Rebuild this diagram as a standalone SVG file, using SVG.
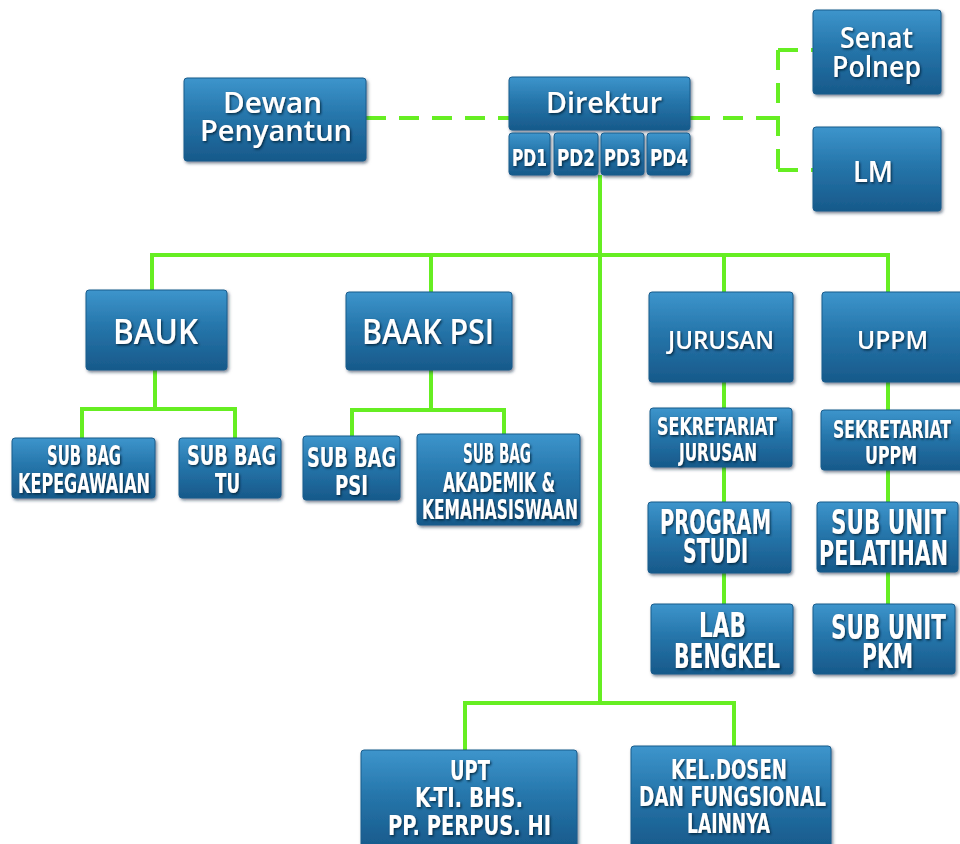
<svg xmlns="http://www.w3.org/2000/svg" width="960" height="844" viewBox="0 0 960 844">
  <defs>
    <linearGradient id="boxFill" x1="0" y1="0" x2="0" y2="1">
      <stop offset="0" stop-color="#3d95cc"/>
      <stop offset="0.45" stop-color="#2676ab"/>
      <stop offset="1" stop-color="#17598a"/>
    </linearGradient>
    <filter id="boxShadow" x="-10%" y="-10%" width="125%" height="130%">
      <feDropShadow dx="1.5" dy="2" stdDeviation="1.5" flood-color="#0c2c44" flood-opacity="0.55"/>
    </filter>
    <filter id="textShadow" x="-10%" y="-20%" width="125%" height="150%">
      <feDropShadow dx="1.2" dy="1.5" stdDeviation="0.9" flood-color="#06233a" flood-opacity="0.9"/>
    </filter>
  </defs>
  <style>
    .box { fill: url(#boxFill); stroke: #1a5c8c; stroke-width: 1; filter: url(#boxShadow); }
    .line { fill: none; stroke: #66ee22; stroke-width: 4; stroke-linecap: butt; }
    .dash { fill: none; stroke: #66ee22; stroke-width: 4; stroke-dasharray: 20 13; }
    .t { fill: #ffffff; filter: url(#textShadow); text-anchor: start; }
    .round { font-family: "Open Sans", "DejaVu Sans", sans-serif; font-weight: 600; }
    .cond { font-family: "DejaVu Sans Condensed", "Liberation Sans", sans-serif; font-weight: bold; }
  </style>
  <rect width="960" height="844" fill="#ffffff"/>

  <!-- connectors -->
  <g id="connectors">
    <path class="dash" d="M366 118 H509"/>
    <path class="dash" d="M690 118 H778"/>
    <path class="dash" d="M778 50 V170"/>
    <path class="dash" d="M778 50 H813"/>
    <path class="dash" d="M778 170 H813"/>
    <path class="line" d="M600 175 V703"/>
    <path class="line" d="M152 290 V255 H888 V292"/>
    <path class="line" d="M431 255 V292"/>
    <path class="line" d="M724 255 V292"/>
    <path class="line" d="M155 370 V409"/>
    <path class="line" d="M82 438 V409 H235 V438"/>
    <path class="line" d="M431 370 V410"/>
    <path class="line" d="M352 436 V410 H504 V434"/>
    <path class="line" d="M724 382 V604"/>
    <path class="line" d="M888 382 V604"/>
    <path class="line" d="M465 750 V703 H734 V746"/>
  </g>

  <!-- top level -->
  <g id="dewan">
    <rect class="box" x="184" y="78" width="182" height="83" rx="3"/>
    <text class="t round" font-size="29" x="223" y="113" textLength="99" lengthAdjust="spacingAndGlyphs">Dewan</text>
    <text class="t round" font-size="29" x="200" y="141" textLength="152" lengthAdjust="spacingAndGlyphs">Penyantun</text>
  </g>
  <g id="direktur">
    <rect class="box" x="509" y="77" width="181" height="53" rx="3"/>
    <text class="t round" font-size="29" x="546" y="113" textLength="116" lengthAdjust="spacingAndGlyphs">Direktur</text>
  </g>
  <g id="pd1">
    <rect class="box" x="509" y="133" width="41" height="42" rx="3"/>
    <text class="t cond" font-size="23" x="512" y="166" textLength="35" lengthAdjust="spacingAndGlyphs">PD1</text>
  </g>
  <g id="pd2">
    <rect class="box" x="554" y="133" width="44" height="42" rx="3"/>
    <text class="t cond" font-size="23" x="557" y="166" textLength="38" lengthAdjust="spacingAndGlyphs">PD2</text>
  </g>
  <g id="pd3">
    <rect class="box" x="601" y="133" width="43" height="42" rx="3"/>
    <text class="t cond" font-size="23" x="604" y="166" textLength="37" lengthAdjust="spacingAndGlyphs">PD3</text>
  </g>
  <g id="pd4">
    <rect class="box" x="647" y="133" width="43" height="42" rx="3"/>
    <text class="t cond" font-size="23" x="650" y="166" textLength="38" lengthAdjust="spacingAndGlyphs">PD4</text>
  </g>
  <g id="senat">
    <rect class="box" x="813" y="10" width="128" height="84" rx="3"/>
    <text class="t round" font-size="29" x="840" y="48" textLength="73" lengthAdjust="spacingAndGlyphs">Senat</text>
    <text class="t round" font-size="29" x="832" y="77" textLength="89" lengthAdjust="spacingAndGlyphs">Polnep</text>
  </g>
  <g id="lm">
    <rect class="box" x="813" y="127" width="128" height="84" rx="3"/>
    <text class="t round" font-size="29" x="853" y="182" textLength="40" lengthAdjust="spacingAndGlyphs">LM</text>
  </g>

  <!-- second level -->
  <g id="bauk">
    <rect class="box" x="86" y="290" width="141" height="80" rx="3"/>
    <text class="t round" font-size="34" x="113" y="344" textLength="85" lengthAdjust="spacingAndGlyphs">BAUK</text>
  </g>
  <g id="baak-psi">
    <rect class="box" x="346" y="292" width="166" height="78" rx="3"/>
    <text class="t round" font-size="34" x="362" y="344" textLength="132" lengthAdjust="spacingAndGlyphs">BAAK PSI</text>
  </g>
  <g id="jurusan">
    <rect class="box" x="649" y="292" width="144" height="90" rx="3"/>
    <text class="t round" font-size="26" x="668" y="349" textLength="106" lengthAdjust="spacingAndGlyphs">JURUSAN</text>
  </g>
  <g id="uppm">
    <rect class="box" x="822" y="292" width="145" height="90" rx="3"/>
    <text class="t round" font-size="26" x="857" y="349" textLength="71" lengthAdjust="spacingAndGlyphs">UPPM</text>
  </g>

  <!-- BAUK units -->
  <g id="subbag-kepegawaian">
    <rect class="box" x="12" y="438" width="143" height="60" rx="3"/>
    <text class="t cond" font-size="26" x="47" y="465" textLength="74" lengthAdjust="spacingAndGlyphs">SUB BAG</text>
    <text class="t cond" font-size="26" x="18" y="493" textLength="132" lengthAdjust="spacingAndGlyphs">KEPEGAWAIAN</text>
  </g>
  <g id="subbag-tu">
    <rect class="box" x="179" y="438" width="102" height="60" rx="3"/>
    <text class="t cond" font-size="26" x="187" y="465" textLength="89" lengthAdjust="spacingAndGlyphs">SUB BAG</text>
    <text class="t cond" font-size="26" x="215" y="493" textLength="25" lengthAdjust="spacingAndGlyphs">TU</text>
  </g>

  <!-- BAAK PSI units -->
  <g id="subbag-psi">
    <rect class="box" x="303" y="436" width="97" height="64" rx="3"/>
    <text class="t cond" font-size="26" x="307" y="467" textLength="89" lengthAdjust="spacingAndGlyphs">SUB BAG</text>
    <text class="t cond" font-size="26" x="335" y="495" textLength="33" lengthAdjust="spacingAndGlyphs">PSI</text>
  </g>
  <g id="subbag-akademik">
    <rect class="box" x="417" y="434" width="163" height="91" rx="3"/>
    <text class="t cond" font-size="27" x="463" y="463" textLength="68" lengthAdjust="spacingAndGlyphs">SUB BAG</text>
    <text class="t cond" font-size="27" x="443" y="492" textLength="112" lengthAdjust="spacingAndGlyphs">AKADEMIK &amp;</text>
    <text class="t cond" font-size="27" x="422" y="519" textLength="156" lengthAdjust="spacingAndGlyphs">KEMAHASISWAAN</text>
  </g>

  <!-- JURUSAN column -->
  <g id="sekretariat-jurusan">
    <rect class="box" x="650" y="408" width="142" height="59" rx="3"/>
    <text class="t cond" font-size="25" x="657" y="435" textLength="120" lengthAdjust="spacingAndGlyphs">SEKRETARIAT</text>
    <text class="t cond" font-size="25" x="679" y="461" textLength="78" lengthAdjust="spacingAndGlyphs">JURUSAN</text>
  </g>
  <g id="program-studi">
    <rect class="box" x="648" y="502" width="143" height="71" rx="3"/>
    <text class="t cond" font-size="33" x="660" y="534" textLength="111" lengthAdjust="spacingAndGlyphs">PROGRAM</text>
    <text class="t cond" font-size="33" x="683" y="563" textLength="65" lengthAdjust="spacingAndGlyphs">STUDI</text>
  </g>
  <g id="lab-bengkel">
    <rect class="box" x="651" y="604" width="142" height="70" rx="3"/>
    <text class="t cond" font-size="33" x="699" y="637" textLength="47" lengthAdjust="spacingAndGlyphs">LAB</text>
    <text class="t cond" font-size="33" x="674" y="668" textLength="106" lengthAdjust="spacingAndGlyphs">BENGKEL</text>
  </g>

  <!-- UPPM column -->
  <g id="sekretariat-uppm">
    <rect class="box" x="821" y="410" width="142" height="60" rx="3"/>
    <text class="t cond" font-size="25" x="833" y="438" textLength="118" lengthAdjust="spacingAndGlyphs">SEKRETARIAT</text>
    <text class="t cond" font-size="25" x="865" y="464" textLength="52" lengthAdjust="spacingAndGlyphs">UPPM</text>
  </g>
  <g id="sub-unit-pelatihan">
    <rect class="box" x="817" y="502" width="141" height="70" rx="3"/>
    <text class="t cond" font-size="33" x="831" y="534" textLength="115" lengthAdjust="spacingAndGlyphs">SUB UNIT</text>
    <text class="t cond" font-size="33" x="819" y="565" textLength="129" lengthAdjust="spacingAndGlyphs">PELATIHAN</text>
  </g>
  <g id="sub-unit-pkm">
    <rect class="box" x="813" y="604" width="142" height="70" rx="3"/>
    <text class="t cond" font-size="33" x="831" y="639" textLength="115" lengthAdjust="spacingAndGlyphs">SUB UNIT</text>
    <text class="t cond" font-size="33" x="862" y="668" textLength="51" lengthAdjust="spacingAndGlyphs">PKM</text>
  </g>

  <!-- bottom units -->
  <g id="upt">
    <rect class="box" x="361" y="750" width="216" height="100" rx="3"/>
    <text class="t cond" font-size="27" x="450" y="780" textLength="40" lengthAdjust="spacingAndGlyphs">UPT</text>
    <text class="t cond" font-size="27" x="415" y="807" textLength="108" lengthAdjust="spacingAndGlyphs">K-TI. BHS.</text>
    <text class="t cond" font-size="27" x="388" y="835" textLength="163" lengthAdjust="spacingAndGlyphs">PP. PERPUS. HI</text>
  </g>
  <g id="kel-dosen">
    <rect class="box" x="631" y="746" width="200" height="104" rx="3"/>
    <text class="t cond" font-size="27" x="671" y="779" textLength="116" lengthAdjust="spacingAndGlyphs">KEL.DOSEN</text>
    <text class="t cond" font-size="27" x="639" y="806" textLength="187" lengthAdjust="spacingAndGlyphs">DAN FUNGSIONAL</text>
    <text class="t cond" font-size="27" x="687" y="833" textLength="83" lengthAdjust="spacingAndGlyphs">LAINNYA</text>
  </g>
</svg>
